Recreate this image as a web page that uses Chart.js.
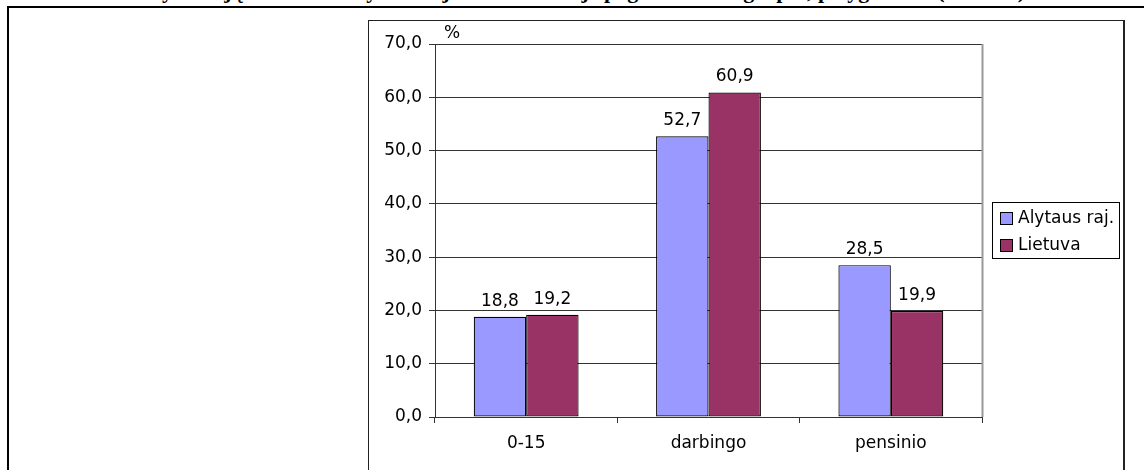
<!DOCTYPE html>
<html>
<head>
<meta charset="utf-8">
<script src="https://cdn.jsdelivr.net/npm/chart.js@4/dist/chart.umd.min.js"></script>
<style>
  html, body { margin: 0; padding: 0; background: #fff; width: 1144px; height: 470px; overflow: hidden; position: relative; }
  #title { position: absolute; left: 0; top: -19px; width: 1170px; text-align: center; font: bold 22px "Liberation Serif", serif; line-height: 20px; white-space: nowrap; color: #000; }
  #hline { position: absolute; left: 7px; top: 6px; width: 1137px; height: 2px; background: #000; }
  #vline { position: absolute; left: 7px; top: 6px; width: 2px; height: 464px; background: #000; }
  #box { position: absolute; left: 368px; top: 20px; width: 754px; height: 460px; border-left: 1px solid #222; border-top: 1px solid #222; border-right: 2px solid #222; }
  #c { position: absolute; left: 369px; top: 21px; }
</style>
</head>
<body>
<div id="title">Gyventojų struktūra Alytaus rajone ir Lietuvoje pagal amžiaus grupes, palyginimas (2006 m.)</div>
<div id="hline"></div>
<div id="vline"></div>
<div id="box"></div>
<canvas id="c" width="754" height="449"></canvas>
<script>
const categories = ['0-15', 'darbingo', 'pensinio'];
const seriesNames = ['Alytaus raj.', 'Lietuva'];
const alytausValues = [18.8, 52.7, 28.5];
const lietuvaValues = [19.2, 60.9, 19.9];
const yTicks = [0, 10, 20, 30, 40, 50, 60, 70];
const yUnit = '%';

const FONT = '"DejaVu Sans", sans-serif';
const fmt = v => v.toFixed(1).replace('.', ',');

const decorPlugin = {
  id: 'decor',
  afterDatasetsDraw(chart) {
    const ctx = chart.ctx;
    const a = chart.chartArea;
    ctx.save();
    // plot area right border
    ctx.strokeStyle = '#999';
    ctx.lineWidth = 2;
    ctx.beginPath();
    ctx.moveTo(a.right + 0.5, a.top);
    ctx.lineTo(a.right + 0.5, a.bottom);
    ctx.stroke();
    // value labels
    ctx.fillStyle = '#000';
    ctx.font = '17px ' + FONT;
    ctx.textAlign = 'center';
    ctx.textBaseline = 'alphabetic';
    chart.data.datasets.forEach((ds, i) => {
      chart.getDatasetMeta(i).data.forEach((bar, j) => {
        ctx.fillText(fmt(ds.data[j]), bar.x, bar.y - 11);
      });
    });
    // unit label
    ctx.textAlign = 'center';
    ctx.textBaseline = 'middle';
    ctx.fillText(yUnit, a.left + 17, a.top - 10);
    // legend
    const lx = a.right + 10, ly = a.top + 158, lw = 127, lh = 56;
    ctx.strokeStyle = '#000';
    ctx.lineWidth = 1;
    ctx.strokeRect(lx + 0.5, ly + 0.5, lw, lh);
    ctx.textAlign = 'left';
    chart.data.datasets.forEach((ds, i) => {
      const sy = ly + 10 + i * 27;
      ctx.fillStyle = ds.backgroundColor;
      ctx.fillRect(lx + 8, sy, 13, 13);
      ctx.strokeStyle = '#000';
      ctx.strokeRect(lx + 8.5, sy + 0.5, 12, 12);
      ctx.fillStyle = '#000';
      ctx.fillText(ds.label, lx + 26, sy + 7);
    });
    ctx.restore();
  }
};

new Chart(document.getElementById('c'), {
  type: 'bar',
  data: {
    labels: categories,
    datasets: [
      { label: seriesNames[0], data: alytausValues, backgroundColor: '#9999FF', borderColor: '#000', borderWidth: 1.2, borderSkipped: false },
      { label: seriesNames[1], data: lietuvaValues, backgroundColor: '#993366', borderColor: '#000', borderWidth: 1.2, borderSkipped: false }
    ]
  },
  options: {
    responsive: false,
    devicePixelRatio: 1,
    animation: false,
    layout: { padding: { top: 23, right: 141, left: 0, bottom: 0 } },
    plugins: { legend: { display: false }, tooltip: { enabled: false }, title: { display: false } },
    datasets: { bar: { categoryPercentage: 0.575, barPercentage: 1 } },
    scales: {
      x: {
        offset: true,
        grid: { offset: true, drawOnChartArea: false, drawTicks: true, tickLength: 6, color: '#333' },
        border: { color: '#333', width: 1 },
        ticks: { color: '#000', font: { family: FONT, size: 17 }, padding: 10, maxRotation: 0 },
        afterFit(s) { s.height = 53; }
      },
      y: {
        min: 0, max: 70,
        afterBuildTicks(s) { s.ticks = yTicks.map(v => ({ value: v })); },
        grid: { color: '#333', tickLength: 6, drawTicks: true },
        border: { color: '#333', width: 1 },
        ticks: { color: '#000', font: { family: FONT, size: 17 }, padding: 7, callback: v => fmt(v) },
        afterFit(s) { s.width = 66; }
      }
    }
  },
  plugins: [decorPlugin]
});
</script>
</body>
</html>
